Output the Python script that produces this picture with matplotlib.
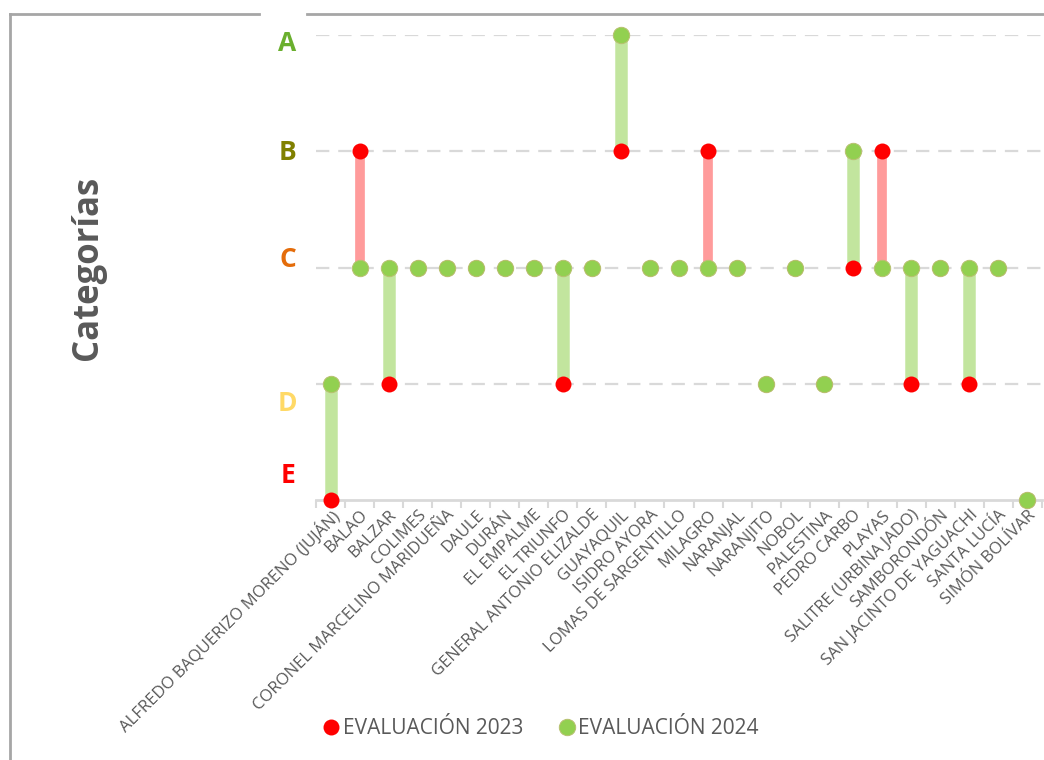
import matplotlib
matplotlib.use("Agg")
import matplotlib.pyplot as plt
from matplotlib.lines import Line2D
import numpy as np

plt.rcParams['font.family'] = ['Open Sans', 'DejaVu Sans']

categories = [
    "ALFREDO BAQUERIZO MORENO (JUJÁN)", "BALAO", "BALZAR", "COLIMES",
    "CORONEL MARCELINO MARIDUEÑA", "DAULE", "DURÁN", "EL EMPALME",
    "EL TRIUNFO", "GENERAL ANTONIO ELIZALDE", "GUAYAQUIL", "ISIDRO AYORA",
    "LOMAS DE SARGENTILLO", "MILAGRO", "NARANJAL", "NARANJITO", "NOBOL",
    "PALESTINA", "PEDRO CARBO", "PLAYAS", "SALITRE (URBINA JADO)",
    "SAMBORONDÓN", "SAN JACINTO DE YAGUACHI", "SANTA LUCÍA", "SIMÓN BOLÍVAR",
]
# 0=E, 1=D, 2=C, 3=B, 4=A
eval_2023 = [0, 3, 1, 2, 2, 2, 2, 2, 1, 2, 3, 2, 2, 3, 2, 1, 2, 1, 2, 3, 1, 2, 1, 2, 0]
eval_2024 = [1, 2, 2, 2, 2, 2, 2, 2, 2, 2, 4, 2, 2, 2, 2, 1, 2, 1, 3, 2, 2, 2, 2, 2, 0]

grade_letters = ["E", "D", "C", "B", "A"]
grade_colors = ["#FF0000", "#FFD966", "#E46C0A", "#808000", "#6AAF2E"]
grade_label_pos = [0.215, 0.834, 2.07, 2.985, 3.93]

legend_labels = ["EVALUACIÓN 2023", "EVALUACIÓN 2024"]

RED = "#FF0000"
GREEN = "#92D050"
GRID = "#D9D9D9"
TEXT = "#595959"

fig = plt.figure(figsize=(10.44, 7.6), dpi=100)
ax = fig.add_axes([316/1044, 1-500/760, (1042-316)/1044, (500-35)/760])

x = np.arange(len(categories))
y23 = np.array(eval_2023)
y24 = np.array(eval_2024)

# gridlines
for g in range(1, 5):
    ax.axhline(g, color=GRID, lw=1.6, ls=(0, (6, 4)), zorder=0)

# connecting bars
for xi, a, b in zip(x, y23, y24):
    if b > a:
        ax.vlines(xi, a, b, color="#C2E59E", lw=9, zorder=1)
    elif b < a:
        ax.vlines(xi, b, a, color="#FF9B9B", lw=7, zorder=1)

ax.plot(x, y23, 'o', color=RED, ms=11.5, mec=RED, mew=0, zorder=3, clip_on=False, label=legend_labels[0])
ax.plot(x, y24, 'o', color=GREEN, ms=11.8, mec="#B8C070", mew=0.7, zorder=4, clip_on=False, label=legend_labels[1])

ax.set_xlim(-0.5, len(categories) - 0.5)
ax.set_ylim(0, 4)
for s in ["top", "right", "left"]:
    ax.spines[s].set_visible(False)
ax.spines["bottom"].set_color(GRID)
ax.spines["bottom"].set_linewidth(2)
ax.set_yticks([])

ax.set_xticks(x)
ax.set_xticklabels(categories, rotation=45, ha="right", rotation_mode="anchor",
                   fontsize=12, color=TEXT)
ax.tick_params(axis="x", which="major", length=0, pad=5)
ax.set_xticks(np.arange(-0.5, len(categories), 1), minor=True)
ax.tick_params(axis="x", which="minor", length=6, width=1.5, color=GRID)

for g, (lab, col, yp) in enumerate(zip(grade_letters, grade_colors, grade_label_pos)):
    ax.text(-1.48, yp, lab, color=col, fontsize=19, fontweight="bold",
            ha="center", va="center", clip_on=False)

fig.text(88/1044, 1-268/760, "Categorías", rotation=90, fontsize=25,
         fontweight="bold", color=TEXT, ha="center", va="center")

leg = fig.legend(loc="center", bbox_to_anchor=(540/1044, 1-729/760), ncol=2,
                 frameon=False, fontsize=15, handletextpad=0.05, columnspacing=1.6,
                 markerscale=1.0, handlelength=1.0)
for t in leg.get_texts():
    t.set_color(TEXT)

# outer border fragments
bc = "#A6A6A6"
fig.add_artist(Line2D([10/1044, 259/1044], [1-14/760, 1-14/760], color=bc, lw=2))
fig.add_artist(Line2D([307/1044, 1.0], [1-14/760, 1-14/760], color=bc, lw=2))
fig.add_artist(Line2D([10/1044, 10/1044], [1-14/760, 0], color=bc, lw=2))

fig.savefig("out.png", dpi=100)
